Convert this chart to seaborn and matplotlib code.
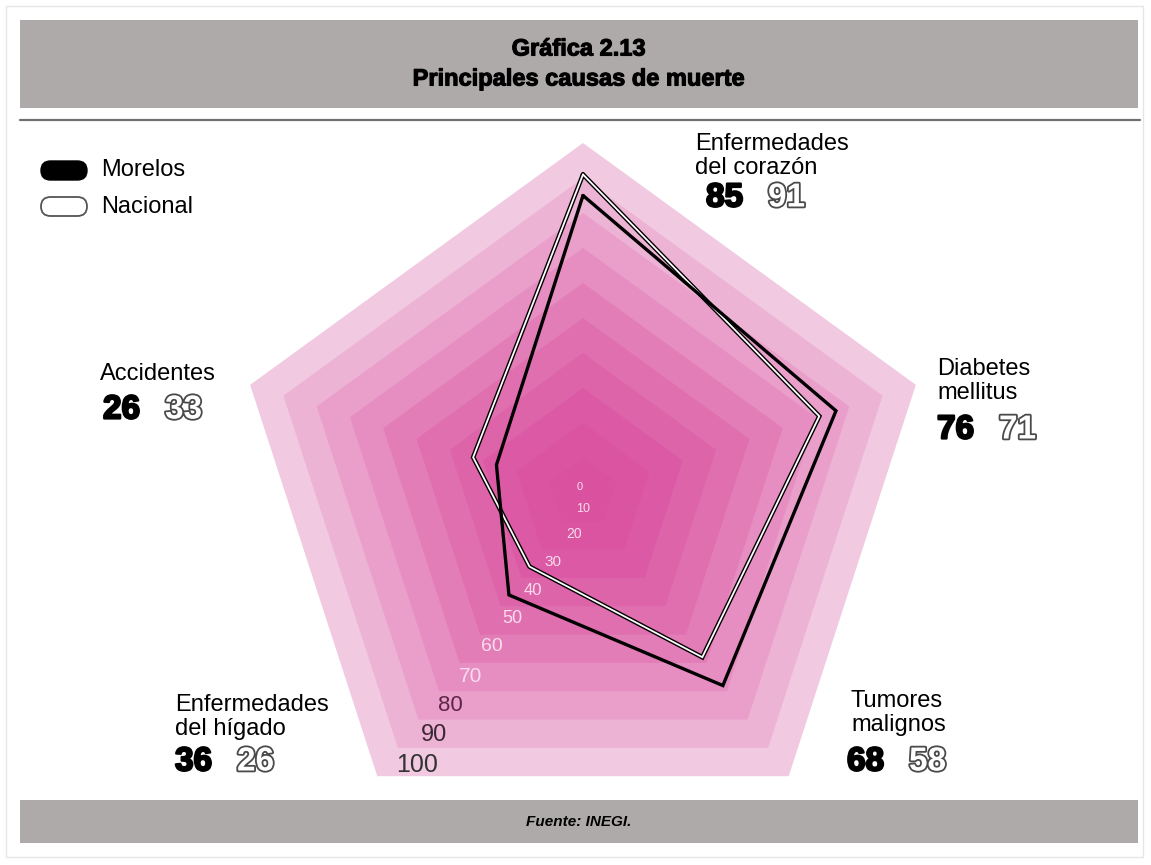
"""Gráfica 2.13: principales causas de muerte, Morelos vs Nacional (radar)."""

import matplotlib
matplotlib.use("Agg")
import matplotlib.pyplot as plt
import matplotlib.patheffects as pe
from matplotlib.colors import to_rgb
from matplotlib.patches import Rectangle, FancyBboxPatch
import numpy as np
import seaborn as sns

# datos
causas = ["Enfermedades\ndel corazón", "Diabetes\nmellitus", "Tumores\nmalignos",
          "Enfermedades\ndel hígado", "Accidentes"]
morelos = [85, 76, 68, 36, 26]
nacional = [91, 71, 58, 26, 33]
niveles = [0, 10, 20, 30, 40, 50, 60, 70, 80, 90, 100]

sns.set_theme(style="white")
plt.rcParams["font.family"] = ["Liberation Sans", "DejaVu Sans"]
plt.rcParams["text.color"] = "black"

W, H = 1151, 865
fig = plt.figure(figsize=(W / 100, H / 100), dpi=100)

# fondo en pixeles (origen arriba a la izquierda)
bg = fig.add_axes([0, 0, 1, 1])
bg.set_xlim(0, W)
bg.set_ylim(H, 0)
bg.axis("off")

gris = "#afaaaa"
bold_extra = [pe.withStroke(linewidth=0.8, foreground="black")]
bg.add_patch(Rectangle((6, 6), W - 14, H - 14, fill=False, ec="#e6e6e6", lw=1))
bg.add_patch(Rectangle((20, 20), 1118, 88, color=gris, lw=0))
bg.plot([20, 1140], [120, 120], color="#707070", lw=1.6)
bg.add_patch(Rectangle((20, 800), 1118, 43, color=gris, lw=0))
bg.text(579, 49, "Gráfica 2.13", ha="center", va="center", fontsize=17,
        fontweight="bold", path_effects=bold_extra)
bg.text(579, 79, "Principales causas de muerte", ha="center", va="center",
        fontsize=17, fontweight="bold", path_effects=bold_extra)
bg.text(579, 822, "Fuente: INEGI.", ha="center", va="center", fontsize=11,
        fontweight="bold", fontstyle="italic")

# leyenda
bg.add_patch(FancyBboxPatch((41, 161), 46, 19, boxstyle="round,pad=0,rounding_size=9.5",
                            fc="black", ec="black", lw=1))
bg.add_patch(FancyBboxPatch((41, 197), 46, 19, boxstyle="round,pad=0,rounding_size=9.5",
                            fc="white", ec="#555555", lw=1.3))
bg.text(101, 170, "Morelos", va="center", fontsize=17)
bg.text(101, 207, "Nacional", va="center", fontsize=17)

# radar: centro en (583, 493) px, 3.5 px por unidad
cx, cy, esc, L = 583, 493, 3.5, 130
half = L * esc
ax = fig.add_axes([(cx - half) / W, (H - cy - half) / H, 2 * half / W, 2 * half / H])
ax.set_xlim(-L, L)
ax.set_ylim(-L, L)
ax.axis("off")
ax.patch.set_alpha(0)

theta = np.deg2rad(90 - 72 * np.arange(len(causas)))

c_in = np.array(to_rgb("#da51a0"))
c_out = np.array(to_rgb("#f1c9e1"))
for lv in niveles[:0:-1]:
    t = ((lv - 10) / 90) ** 1.7
    ax.fill(lv * np.cos(theta), lv * np.sin(theta), color=c_in + (c_out - c_in) * t, lw=0)


def cerrar(vals):
    v = np.append(vals, vals[0])
    a = np.append(theta, theta[0])
    return v * np.cos(a), v * np.sin(a)


xn, yn = cerrar(nacional)
sns.lineplot(x=xn, y=yn, sort=False, estimator=None, color="white", lw=1.3, ax=ax,
             solid_joinstyle="miter",
             path_effects=[pe.Stroke(linewidth=3.3, foreground="black"), pe.Normal()])
xm, ym = cerrar(morelos)
sns.lineplot(x=xm, y=ym, sort=False, estimator=None, color="black", lw=2.4, ax=ax,
             solid_joinstyle="miter")

# etiquetas de la escala sobre el eje inferior izquierdo
a3 = theta[3]
for lv in niveles:
    k = min(lv, 15) / 15
    if lv <= 70:
        col = "#fadcec"
    elif lv == 80:
        col = "#5e2546"
    elif lv == 90:
        col = "#3a2733"
    else:
        col = "#333333"
    ax.annotate(str(lv), (lv * np.cos(a3), lv * np.sin(a3)),
                xytext=(-3 + 35 * k + max(0, lv - 80) * 0.4, 6 + 10 * k - max(0, lv - 60) * 0.12),
                textcoords="offset pixels",
                ha="center", va="center", fontsize=8 + 0.1 * lv, color=col)

# rotulos de cada causa con sus valores
rot_pos = [(695, 133), (937, 358), (851, 690), (175, 694), (100, 363)]
num_pos = [(706, 198), (937, 430), (847, 762), (175, 762), (103, 410)]
for nombre, vm, vn, (tx, ty), (nx, ny) in zip(causas, morelos, nacional, rot_pos, num_pos):
    bg.text(tx, ty, nombre, va="top", ha="left", fontsize=17, linespacing=1.1)
    bg.text(nx, ny, str(vm), va="center", ha="left", fontsize=24, fontweight="bold",
            path_effects=[pe.withStroke(linewidth=1.6, foreground="black")])
    bg.text(nx + 62, ny, str(vn), va="center", ha="left", fontsize=24, fontweight="bold",
            color="white", path_effects=[pe.withStroke(linewidth=2.6, foreground="#4a4a4a")])

fig.savefig("out.png", dpi=100)
